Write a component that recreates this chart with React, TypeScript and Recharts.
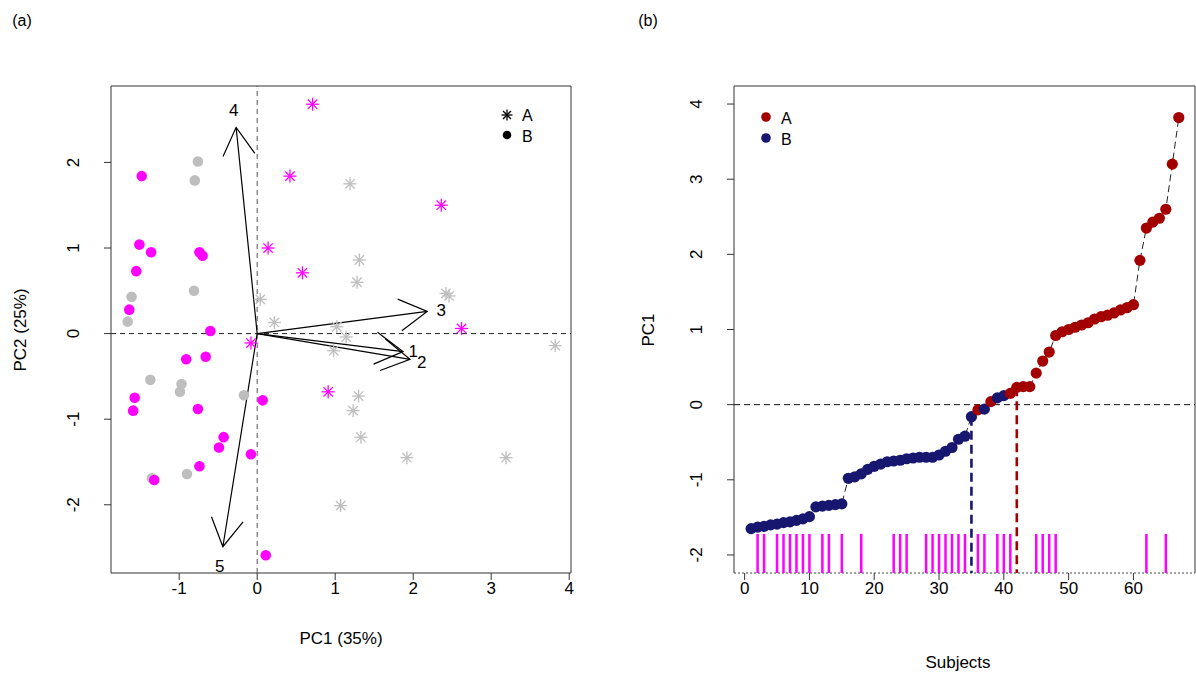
import React from 'react'
import { ComposedChart, Scatter, Line, XAxis, YAxis, ReferenceLine, ReferenceArea } from 'recharts'

const FONT = '"Liberation Sans", Arial, sans-serif'
const MAGENTA = '#FF00FF'
const GREY = '#BEBEBE'
const DARKRED = '#A30000'
const NAVY = '#171770'

// panel (a): scores on [PC1, PC2]
const starsGrey = [
  [0.04, 0.4], [0.22, 0.13], [1.19, 1.75], [1.31, 0.86], [1.28, 0.6], [2.46, 0.44], [2.42, 0.47],
  [1.02, 0.08], [1.14, -0.04], [0.98, -0.2], [3.82, -0.14], [1.3, -0.73], [1.23, -0.9], [1.33, -1.21],
  [1.92, -1.45], [3.19, -1.45], [1.07, -2.01],
]
const starsMagenta = [
  [0.71, 2.68], [0.42, 1.84], [0.14, 1.0], [0.58, 0.71], [2.36, 1.5], [2.62, 0.06], [-0.08, -0.11], [0.91, -0.68],
]
const dotsGrey = [
  [-0.76, 2.01], [-0.8, 1.79], [-0.81, 0.5], [-1.61, 0.43], [-1.66, 0.14], [-1.37, -0.54], [-0.97, -0.59],
  [-0.99, -0.68], [-0.17, -0.72], [-0.9, -1.64], [-1.35, -1.69],
]
const dotsMagenta = [
  [-1.48, 1.84], [-1.51, 1.04], [-1.36, 0.95], [-1.55, 0.73], [-0.74, 0.95], [-0.7, 0.91], [-1.64, 0.28],
  [-0.6, 0.03], [-0.91, -0.3], [-0.66, -0.27], [-1.57, -0.75], [-1.59, -0.9], [-0.76, -0.88], [0.07, -0.78],
  [-0.43, -1.21], [-0.49, -1.33], [-0.08, -1.41], [-0.74, -1.55], [-1.32, -1.71], [0.11, -2.59],
]

// loadings (arrow tips) and where their numbers sit
const loadingNames = ['1', '2', '3', '4', '5']
const loadingTips = [[1.87, -0.21], [1.96, -0.3], [2.18, 0.26], [-0.27, 2.41], [-0.44, -2.49]]
const loadingTextPos = [[2.0, -0.21], [2.11, -0.34], [2.36, 0.27], [-0.3, 2.61], [-0.48, -2.72]]

// panel (b): PC1 sorted by subject
const pc1Sorted = [
  -1.65, -1.63, -1.62, -1.6, -1.59, -1.57, -1.56, -1.54, -1.52, -1.49,
  -1.36, -1.35, -1.34, -1.33, -1.32, -0.98, -0.96, -0.92, -0.86, -0.82,
  -0.79, -0.76, -0.75, -0.74, -0.72, -0.71, -0.7, -0.7, -0.7, -0.67,
  -0.62, -0.57, -0.46, -0.42, -0.16, -0.07, -0.06, 0.04, 0.09, 0.12,
  0.15, 0.23, 0.24, 0.24, 0.42, 0.58, 0.7, 0.92, 0.97, 1.0,
  1.03, 1.06, 1.09, 1.14, 1.17, 1.19, 1.22, 1.26, 1.29, 1.33,
  1.92, 2.35, 2.43, 2.48, 2.6, 3.2, 3.82,
]
const groupSorted = 'BBBBB BBBBB BBBBB BBBBB BBBBB BBBBB BBBBB ABABBA AAAAA AAAAA AAAAA AAAAA AAAAA A'
  .replace(/ /g, '')
  .split('')
const rugSubjects = [2, 3, 5, 6, 7, 8, 9, 10, 12, 13, 15, 18, 23, 24, 25, 28, 29, 30, 31, 32, 33, 34, 36, 37, 39, 40, 41, 45, 46, 47, 48, 62, 65]
const cutB = 35
const cutA = 42

const xTicksA = [-1, 0, 1, 2, 3, 4]
const yTicksA = [-2, -1, 0, 1, 2]
const xTicksB = [0, 10, 20, 30, 40, 50, 60]
const yTicksB = [-2, -1, 0, 1, 2, 3, 4]

const XA: [number, number] = [-1.874, 4.023]
const YA: [number, number] = [-2.797, 2.893]
const XB: [number, number] = [-1.64, 69.5]
const YB: [number, number] = [-2.24, 4.24]

const toPts = (arr: number[][]) => arr.map(([x, y]) => ({ x, y }))

const starShape = (color: string, r = 6.5) => (p: any) => {
  const { cx, cy } = p
  const d = r * 0.72
  return (
    <g stroke={color} strokeWidth={1.3}>
      <line x1={cx - r} y1={cy} x2={cx + r} y2={cy} />
      <line x1={cx} y1={cy - r} x2={cx} y2={cy + r} />
      <line x1={cx - d} y1={cy - d} x2={cx + d} y2={cy + d} />
      <line x1={cx - d} y1={cy + d} x2={cx + d} y2={cy - d} />
    </g>
  )
}

const dotShape = (color: string, r = 5.3) => (p: any) => <circle cx={p.cx} cy={p.cy} r={r} fill={color} />

const groupDot = (p: any) => (
  <circle cx={p.cx} cy={p.cy} r={5.6} fill={p.payload.group === 'A' ? DARKRED : NAVY} />
)

const arrowShape = (p: any) => {
  const { x1, y1, x2, y2 } = p
  const a = Math.atan2(y2 - y1, x2 - x1)
  const L = 32
  const t = Math.PI / 6
  const hx1 = x2 - L * Math.cos(a - t)
  const hy1 = y2 - L * Math.sin(a - t)
  const hx2 = x2 - L * Math.cos(a + t)
  const hy2 = y2 - L * Math.sin(a + t)
  return (
    <path
      d={`M${x1},${y1}L${x2},${y2}M${hx1},${hy1}L${x2},${y2}L${hx2},${hy2}`}
      stroke="#000"
      strokeWidth={1.2}
      fill="none"
    />
  )
}

const labelShape = (p: any) => (
  <text x={p.cx} y={p.cy} textAnchor="middle" dominantBaseline="central" fontSize={17} fill="#000">
    {p.payload.label}
  </text>
)

const RotTick = (p: any) => {
  const { x, y, payload } = p
  const bx = x - 23
  return (
    <text x={bx} y={y} transform={`rotate(-90, ${bx}, ${y})`} textAnchor="middle" fontSize={17} fill="#000">
      {payload.value}
    </text>
  )
}

const xTick = { fontSize: 17, fill: '#000' }

function PanelA() {
  const labels = loadingTextPos.map(([x, y], i) => ({ x, y, label: loadingNames[i] }))
  return (
    <ComposedChart width={600} height={678} margin={{ top: 86, right: 29, bottom: 0, left: 0 }} style={{ fontFamily: FONT }}>
      <XAxis type="number" dataKey="x" domain={XA} ticks={xTicksA} allowDataOverflow height={105}
        axisLine={false} tickSize={7} tickLine={{ stroke: '#333' }} tick={xTick} interval={0} />
      <YAxis type="number" dataKey="y" domain={YA} ticks={yTicksA} allowDataOverflow width={111}
        axisLine={false} tickSize={7} tickLine={{ stroke: '#333' }} tick={RotTick} interval={0} />
      <ReferenceArea x1={XA[0]} x2={XA[1]} y1={YA[0]} y2={YA[1]} fill="none" stroke="#333" strokeWidth={1} />
      <ReferenceLine x={0} stroke="#555" strokeDasharray="5 4" />
      <ReferenceLine y={0} stroke="#222" strokeDasharray="5 4" />
      <Scatter data={toPts(dotsGrey)} shape={dotShape(GREY)} isAnimationActive={false} />
      <Scatter data={toPts(starsGrey)} shape={starShape(GREY)} isAnimationActive={false} />
      <Scatter data={toPts(dotsMagenta)} shape={dotShape(MAGENTA)} isAnimationActive={false} />
      <Scatter data={toPts(starsMagenta)} shape={starShape(MAGENTA)} isAnimationActive={false} />
      {loadingTips.map(([x, y], i) => (
        <ReferenceLine key={`ld-${i}`} segment={[{ x: 0, y: 0 }, { x, y }]} shape={arrowShape} />
      ))}
      <Scatter data={labels} shape={labelShape} isAnimationActive={false} />
    </ComposedChart>
  )
}

function PanelB() {
  const rows = pc1Sorted.map((v, i) => ({ subject: i + 1, pc1: v, group: groupSorted[i] }))
  return (
    <ComposedChart width={576} height={678} data={rows} margin={{ top: 86, right: 1, bottom: 0, left: 0 }} style={{ fontFamily: FONT }}>
      <XAxis type="number" dataKey="subject" domain={XB} ticks={xTicksB} allowDataOverflow height={105}
        axisLine={false} tickSize={7} tickLine={{ stroke: '#333' }} tick={xTick} interval={0} />
      <YAxis type="number" dataKey="pc1" domain={YB} ticks={yTicksB} allowDataOverflow width={114}
        axisLine={false} tickSize={7} tickLine={{ stroke: '#333' }} tick={RotTick} interval={0} />
      <ReferenceLine x={XB[0]} stroke="#333" />
      <ReferenceLine x={XB[1]} stroke="#333" />
      <ReferenceLine y={YB[1]} stroke="#333" />
      <ReferenceLine y={YB[0]} stroke="#444" strokeDasharray="2 2" />
      <ReferenceLine y={0} stroke="#111" strokeDasharray="6 4" />
      {rugSubjects.map((s) => (
        <ReferenceLine key={`rug-${s}`} segment={[{ x: s, y: YB[0] }, { x: s, y: -1.72 }]} stroke={MAGENTA} strokeWidth={2.5} />
      ))}
      <ReferenceLine segment={[{ x: cutB, y: pc1Sorted[cutB - 1] }, { x: cutB, y: YB[0] }]} stroke={NAVY} strokeWidth={2.6} strokeDasharray="9 5" />
      <ReferenceLine segment={[{ x: cutA, y: pc1Sorted[cutA - 1] }, { x: cutA, y: YB[0] }]} stroke={DARKRED} strokeWidth={2.6} strokeDasharray="9 5" />
      <Line dataKey="pc1" stroke="#222" strokeWidth={1} strokeDasharray="7 4" dot={false} isAnimationActive={false} />
      <Scatter dataKey="pc1" shape={groupDot} isAnimationActive={false} />
    </ComposedChart>
  )
}

export default function App() {
  return (
    <div style={{ position: 'absolute', left: 0, top: 0, width: 1196, height: 678, background: '#fff', fontFamily: FONT }}>
      <div style={{ position: 'absolute', left: 0, top: 0 }}>
        <PanelA />
      </div>
      <div style={{ position: 'absolute', left: 620, top: 0 }}>
        <PanelB />
      </div>
      <svg width={1196} height={678} style={{ position: 'absolute', left: 0, top: 0, pointerEvents: 'none' }} fontFamily={FONT}>
        <text x={22} y={20} textAnchor="middle" dominantBaseline="central" fontSize={16}>(a)</text>
        <text x={648} y={20} textAnchor="middle" dominantBaseline="central" fontSize={16}>(b)</text>
        <text x={341} y={638} textAnchor="middle" dominantBaseline="central" fontSize={17}>PC1 (35%)</text>
        <text x={20} y={330} textAnchor="middle" dominantBaseline="central" fontSize={17} transform="rotate(-90, 20, 330)">PC2 (25%)</text>
        <text x={958} y={662} textAnchor="middle" dominantBaseline="central" fontSize={17}>Subjects</text>
        <text x={648} y={330} textAnchor="middle" dominantBaseline="central" fontSize={17} transform="rotate(-90, 648, 330)">PC1</text>
        {/* legend (a) */}
        {starShape('#000', 5.5)({ cx: 507, cy: 115 })}
        <text x={522} y={115} dominantBaseline="central" fontSize={16}>A</text>
        <circle cx={507} cy={135} r={4.3} fill="#000" />
        <text x={522} y={136} dominantBaseline="central" fontSize={16}>B</text>
        {/* legend (b) */}
        <circle cx={766} cy={117} r={4.8} fill={DARKRED} />
        <text x={781} y={118} dominantBaseline="central" fontSize={16}>A</text>
        <circle cx={766} cy={138} r={4.8} fill={NAVY} />
        <text x={781} y={139} dominantBaseline="central" fontSize={16}>B</text>
      </svg>
    </div>
  )
}
